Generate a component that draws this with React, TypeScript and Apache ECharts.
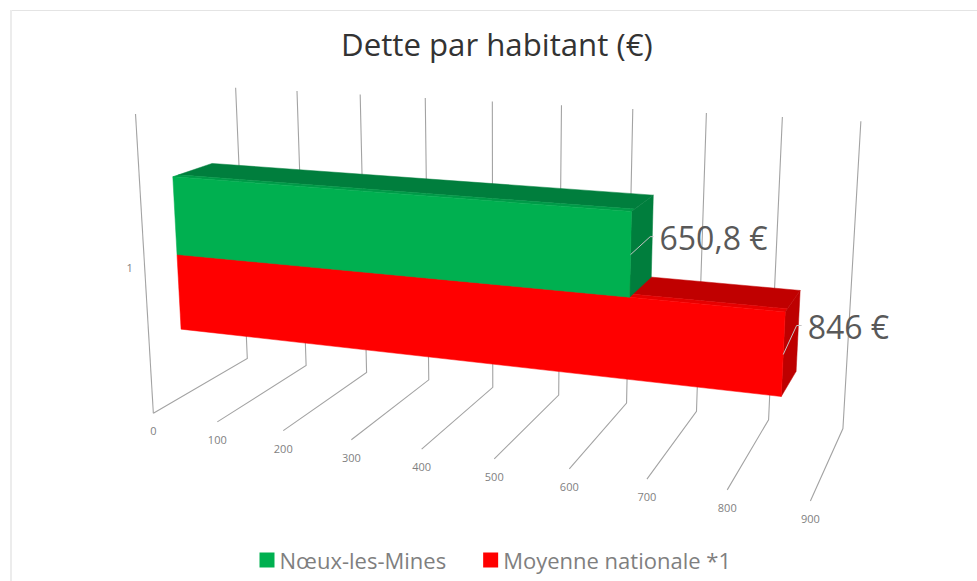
import React, { useEffect, useRef } from "react";
import * as echarts from "echarts";

const title = "Dette par habitant (€)";
const categories = ["1"];
const tickValues = [0, 100, 200, 300, 400, 500, 600, 700, 800, 900];
const axisMax = 900;
const nameA = "Nœux-les-Mines";
const nameB = "Moyenne nationale *1";
const valuesA = [650.8];
const valuesB = [846];

const FONT = "'Open Sans', sans-serif";

// Camera calibration: [value fraction, depth, height] -> screen
const CAL: number[][] = [
  [0, 0, 0, 153.3, 412.7], [0, 1, 0, 247.3, 358.7], [0, 1, 1, 235.7, 88], [0, 0, 1, 135.5, 114],
  [1, 0, 0, 217.3, 422], [1, 1, 0, 306, 365.3], [1, 1, 1, 297, 91],
  [2, 0, 0, 283.3, 430.7], [2, 1, 0, 366.7, 372.3], [2, 1, 1, 360.3, 94.3],
  [3, 0, 0, 351.3, 440], [3, 1, 0, 429, 380], [3, 1, 1, 425, 98],
  [4, 0, 0, 421.7, 449.3], [4, 1, 0, 492.7, 387.7], [4, 1, 1, 492.3, 101.7],
  [5, 0, 0, 494.3, 458.7], [5, 1, 0, 558.3, 395], [5, 1, 1, 561.7, 105],
  [6, 0, 0, 569.3, 469], [6, 1, 0, 626.7, 403.3], [6, 1, 1, 632.7, 109],
  [7, 0, 0, 647, 479], [7, 1, 0, 696.7, 411], [7, 1, 1, 706.3, 113],
  [8, 0, 0, 727.3, 490], [8, 1, 0, 768.7, 420], [8, 1, 1, 782.3, 117],
  [9, 0, 0, 810.3, 500.7], [9, 1, 0, 842.7, 428.3], [9, 1, 1, 861, 121.3],
].map((r) => [r[0] / 9, r[1], r[2], r[3] / 1000, r[4] / 1000]);

function solveCamera(): number[] {
  const n = 11;
  const A = Array.from({ length: n }, () => new Array(n + 1).fill(0));
  const add = (row: number[], b: number) => {
    for (let i = 0; i < n; i++) {
      for (let j = 0; j < n; j++) A[i][j] += row[i] * row[j];
      A[i][n] += row[i] * b;
    }
  };
  CAL.forEach(([X, Y, Z, x, y]) => {
    add([X, Y, Z, 1, 0, 0, 0, 0, -x * X, -x * Y, -x * Z], x);
    add([0, 0, 0, 0, X, Y, Z, 1, -y * X, -y * Y, -y * Z], y);
  });
  for (let c = 0; c < n; c++) {
    let p = c;
    for (let r = c + 1; r < n; r++) if (Math.abs(A[r][c]) > Math.abs(A[p][c])) p = r;
    [A[c], A[p]] = [A[p], A[c]];
    for (let r = 0; r < n; r++) {
      if (r === c) continue;
      const f = A[r][c] / A[c][c];
      for (let k = c; k <= n; k++) A[r][k] -= f * A[c][k];
    }
  }
  return A.map((r, i) => r[n] / r[i]);
}
const P = solveCamera();
const project = (u: number, d: number, h: number): number[] => {
  const w = P[8] * u + P[9] * d + P[10] * h + 1;
  return [
    (1000 * (P[0] * u + P[1] * d + P[2] * h + P[3])) / w,
    (1000 * (P[4] * u + P[5] * d + P[6] * h + P[7])) / w,
  ];
};

const D1 = 0.31;
const D2 = 0.71;
const BEVEL = 0.35;
const H0 = 0.236;
const H1 = 0.497;
const H2 = 0.762;

// value axis -> fraction of the floor
const frac = (api: any, params: any, v: number) => {
  const cs = params.coordSys;
  return (api.coord([v, 0])[0] - cs.x) / cs.width;
};

const barRenderer =
  (lo: number, hi: number, front: string, top: string, bevel: string, side: string, elbow: number[]) =>
  (params: any, api: any) => {
    const val = api.value(0) as number;
    const u = frac(api, params, val);
    const u0 = frac(api, params, 0);
    const quad = (pts: number[][], fill: string) => ({
      type: "polygon",
      shape: { points: pts },
      style: { fill, stroke: fill, lineWidth: 0.5 },
    });
    const Dm = D1 + (D2 - D1) * BEVEL * 0.4;
    const start = project(u, D1, (lo + hi) / 2);
    const p1 = [start[0] + elbow[0], start[1] + elbow[1]];
    const p2 = [p1[0] + elbow[2], p1[1]];
    return {
      type: "group",
      children: [
        quad([project(u0, Dm, hi), project(u, Dm, hi), project(u, D2, hi), project(u0, D2, hi)], top),
        quad([project(u0, D1, hi), project(u, D1, hi), project(u, Dm, hi), project(u0, Dm, hi)], bevel),
        quad([project(u, D1, lo), project(u, D1, hi), project(u, D2, hi), project(u, D2, lo)], side),
        quad([project(u0, D1, lo), project(u, D1, lo), project(u, D1, hi), project(u0, D1, hi)], front),
        {
          type: "polyline",
          shape: { points: [start, p1, p2] },
          style: { stroke: "#c4c4c4", lineWidth: 1, fill: "none" },
        },
        {
          type: "text",
          style: {
            text: `${String(val).replace(".", ",")} €`,
            x: p2[0] + 6,
            y: p2[1] + 0.5,
            fill: "#595959",
            font: `32px ${FONT}`,
            align: "left",
            verticalAlign: "middle",
          },
        },
      ],
    };
  };

const gridRenderer = (params: any, api: any) => {
  const v = api.value(0) as number;
  const u = frac(api, params, v);
  const F = project(u, 0, 0);
  const B = project(u, 1, 0);
  const T = project(u, 1, 1);
  const stroke = "#a3a3a3";
  const children: any[] = [
    { type: "polyline", shape: { points: [F, B, T] }, style: { stroke, lineWidth: 1.1, fill: "none" } },
    {
      type: "text",
      style: {
        text: String(v),
        x: F[0],
        y: F[1] + 17.5,
        fill: "#7f7f7f",
        font: `11px ${FONT}`,
        align: "center",
        verticalAlign: "middle",
      },
    },
  ];
  if (params.dataIndex === 0) {
    children.push({
      type: "polyline",
      shape: { points: [F, project(u, 0, 1)] },
      style: { stroke, lineWidth: 1.1, fill: "none" },
    });
    const c = project(u, 0, H1);
    children.push({
      type: "text",
      style: {
        text: categories[0],
        x: c[0] - 15,
        y: c[1] - 1,
        fill: "#7f7f7f",
        font: `11px ${FONT}`,
        align: "center",
        verticalAlign: "middle",
      },
    });
  }
  return { type: "group", children };
};

export default function App() {
  const ref = useRef<HTMLDivElement>(null);
  useEffect(() => {
    const chart = echarts.init(ref.current!, undefined, { renderer: "svg" });
    chart.setOption({
      animation: false,
      backgroundColor: "#ffffff",
      title: {
        text: title,
        left: 341,
        top: 28,
        padding: 0,
        textStyle: { color: "#333333", fontFamily: FONT, fontWeight: "normal", fontSize: 31.2 },
      },
      legend: {
        left: 259.5,
        top: 549,
        padding: 0,
        itemWidth: 15,
        itemHeight: 15,
        itemGap: 37,
        icon: "rect",
        data: [nameA, nameB],
        textStyle: { color: "#7f7f7f", fontFamily: FONT, fontSize: 22 },
      },
      grid: { left: 100, right: 100, top: 100, bottom: 100, show: false },
      xAxis: { type: "value", min: 0, max: axisMax, interval: 100, show: false },
      yAxis: { type: "category", data: categories, show: false },
      graphic: [
        {
          type: "line",
          shape: { x1: 10, y1: 10.5, x2: 977, y2: 10.5 },
          style: { stroke: "#e4e4e4", lineWidth: 1 },
          silent: true,
        },
        {
          type: "line",
          shape: { x1: 11, y1: 10, x2: 11, y2: 581 },
          style: { stroke: "#ececec", lineWidth: 2 },
          silent: true,
        },
      ],
      series: [
        {
          type: "custom",
          name: "axes",
          silent: true,
          z: 1,
          data: tickValues.map((v) => [v, 0]),
          encode: { x: 0, y: 1 },
          renderItem: gridRenderer,
        },
        {
          type: "custom",
          name: nameB,
          silent: true,
          z: 2,
          itemStyle: { color: "#ff0000" },
          data: valuesB.map((v) => [v, 0]),
          encode: { x: 0, y: 1 },
          renderItem: barRenderer(H0, H1, "#ff0000", "#c00000", "#e60000", "#bd0000", [13.4, -29, 5]),
        },
        {
          type: "custom",
          name: nameA,
          silent: true,
          z: 3,
          itemStyle: { color: "#00b050" },
          data: valuesA.map((v) => [v, 0]),
          encode: { x: 0, y: 1 },
          renderItem: barRenderer(H1, H2, "#00b050", "#007e3d", "#009a48", "#007e3d", [19.7, -18, 3.3]),
        },
      ],
    });
    return () => chart.dispose();
  }, []);
  return <div ref={ref} style={{ position: "fixed", left: 0, top: 0, width: 977, height: 581 }} />;
}
